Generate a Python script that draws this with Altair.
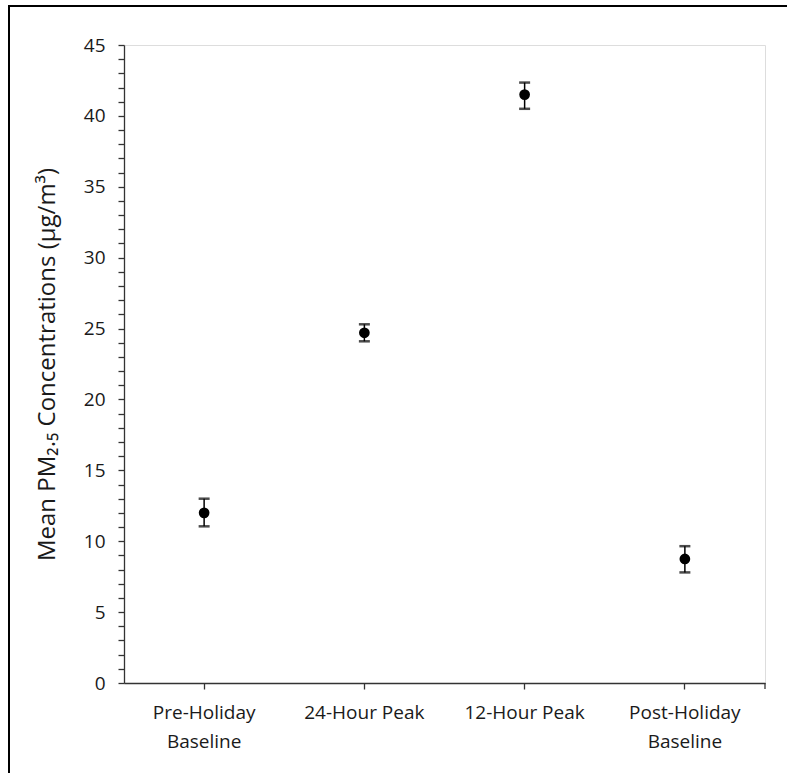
import altair as alt
import pandas as pd

categories = ["Pre-Holiday\nBaseline", "24-Hour Peak", "12-Hour Peak", "Post-Holiday\nBaseline"]
means = [12.0, 24.7, 41.5, 8.75]
lower = [11.05, 24.1, 40.5, 7.8]
upper = [13.0, 25.3, 42.35, 9.65]

df = pd.DataFrame({"cat": categories, "mean": means, "lo": lower, "hi": upper})

FONT = "Open Sans"
W, H = 641, 638

xaxis = alt.Axis(labelExpr="split(datum.label, '\\n')", labelAngle=0,
                 labelFont=FONT, labelFontSize=19, labelColor="#1a1a1a",
                 labelLineHeight=29, labelPadding=14, labelBaseline="top",
                 domainColor="#333", domainWidth=1.3, tickColor="#333",
                 tickSize=6, tickWidth=1.3, tickBand="center", labelOverlap=False)
xscale = alt.Scale(paddingInner=0, paddingOuter=0)

yscale = alt.Scale(domain=[0, 45], nice=False)
yaxis = alt.Axis(values=list(range(0, 46)),
                 labelExpr="datum.value % 5 === 0 ? datum.label : ''",
                 labelOverlap=False,
                 title="Mean PM₂.₅ Concentrations (µg/m³)",
                 titleFont=FONT, titleFontSize=24, titleFontWeight="normal", titleColor="#1a1a1a",
                 titlePadding=24,
                 labelFont=FONT, labelFontSize=19, labelColor="#1a1a1a", labelPadding=13,
                 domainColor="#333", domainWidth=1.3, tickColor="#333", tickSize=6,
                 tickWidth=1.3, grid=False)

def X():
    return alt.X("cat:N", sort=categories, title=None, scale=xscale, axis=xaxis)

def Y(field):
    return alt.Y(field, scale=yscale, axis=yaxis)

base = alt.Chart(df)

whisker = base.mark_rule(color="black", strokeWidth=1.5).encode(
    x=X(), y=Y("lo:Q"), y2="hi:Q")
cap_hi = base.mark_tick(color="black", size=11, thickness=2.5).encode(x=X(), y=Y("hi:Q"))
cap_lo = base.mark_tick(color="black", size=11, thickness=2.5).encode(x=X(), y=Y("lo:Q"))
points = base.mark_point(filled=True, shape="circle", size=115, color="black", opacity=1).encode(
    x=X(), y=Y("mean:Q"))

end_tick = alt.Chart(pd.DataFrame({"a": [0]})).mark_rule(color="#333", strokeWidth=1.3).encode(
    x=alt.value(W), y=alt.value(H), y2=alt.value(H + 6))

frame = alt.Chart(pd.DataFrame({"a": [0]})).mark_rect(
    fill=None, stroke="black", strokeWidth=2, clip=False).encode(
    x=alt.value(9 - 124), x2=alt.value(900), y=alt.value(6 - 45), y2=alt.value(900))

chart = alt.layer(frame, whisker, cap_hi, cap_lo, points, end_tick).properties(
    width=W, height=H,
    autosize=alt.AutoSizeParams(type="none"),
    padding={"left": 124, "top": 45, "right": 22, "bottom": 90},
).configure_view(stroke=None).configure(background="white")

chart.save("out.html", embed_options={"renderer": "svg", "actions": False})
